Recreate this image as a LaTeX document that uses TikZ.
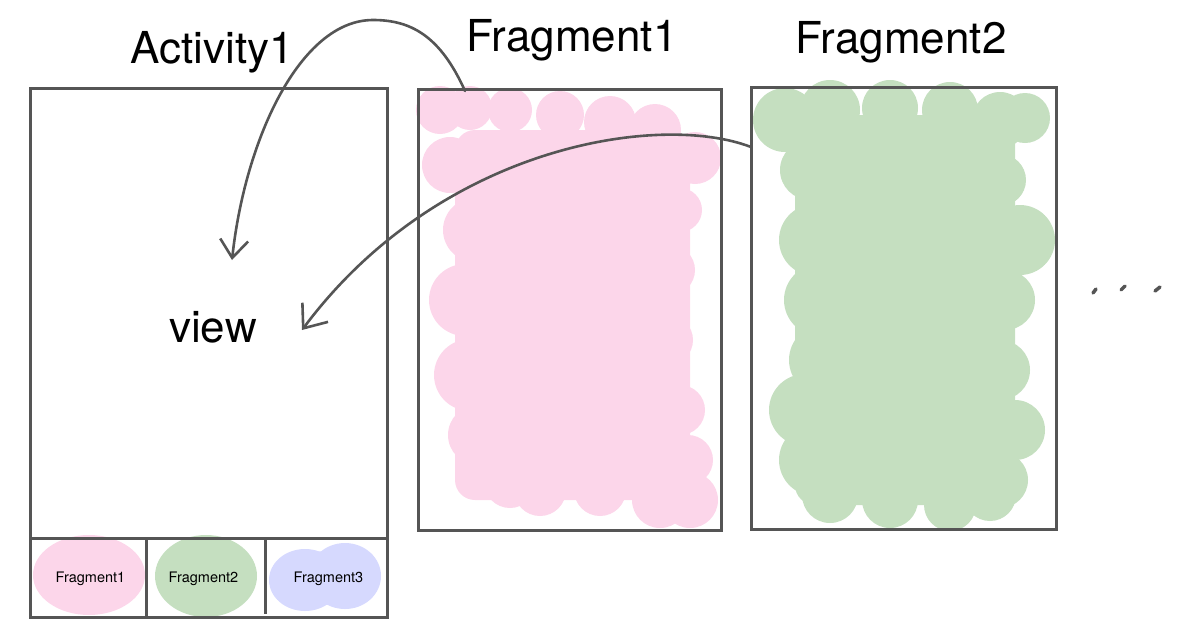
\documentclass[tikz,border=0pt]{standalone}
\usepackage{fontspec}
\setmainfont{TeX Gyre Heros}
\usetikzlibrary{arrows.meta}
\definecolor{linec}{HTML}{555555}
\definecolor{pinkc}{HTML}{FCD6EA}
\definecolor{greenc}{HTML}{C5DFC0}
\definecolor{lavc}{HTML}{D6D9FE}
\tikzset{
  frame/.style={draw=linec, line width=3pt, minimum width=#1, inner sep=0pt},
  bigtitle/.style={font=\fontsize{44}{48}\selectfont, inner sep=0pt},
  tablabel/.style={font=\fontsize{14.5}{16}\selectfont, inner sep=0pt},
  conn/.style={draw=linec, line width=2.6pt, line cap=round},
}
\begin{document}
\begin{tikzpicture}[x=1pt,y=-1pt]
\useasboundingbox (0,0) rectangle (1199,633);
% pink big blob
\fill[pinkc, rounded corners=20pt] (455,130) rectangle (690,500);
\foreach \cx/\cy/\r in {440/110/24, 470/108/22, 510/110/22, 560/115/24,
  610/122/26, 655/130/26, 695/158/26,
  450/165/28, 475/230/32, 465/300/36, 470/375/36,
  478/435/30, 485/470/28, 510/482/26, 540/490/26, 600/490/26,
  660/500/28, 690/500/28,
  680/210/22, 670/270/25, 668/340/25, 680/410/25, 688/460/25}
  \fill[pinkc] (\cx,\cy) circle (\r);
% green big blob
\fill[greenc, rounded corners=20pt] (795,115) rectangle (1015,505);
\foreach \cx/\cy/\r in {785/120/32, 830/110/30, 890/108/28, 950/110/28,
  1000/120/28, 1025/118/25,
  810/170/30, 815/240/36, 820/300/36, 825/360/36,
  805/410/36, 815/460/36, 830/495/28,
  890/500/28, 950/505/26, 990/495/26,
  1000/180/26, 1020/240/35, 1005/300/30, 1000/370/30,
  1015/430/30, 1000/480/28}
  \fill[greenc] (\cx,\cy) circle (\r);
% small blobs
\fill[pinkc] (89,575) ellipse (56 and 40);
\fill[greenc] (206,576) ellipse (51 and 41);
\fill[lavc] (305,580) ellipse (36 and 31);
\fill[lavc] (345,576) ellipse (36 and 33);
\fill[lavc] (325,578) ellipse (30 and 27);
% frames
\node[frame=357pt, minimum height=529pt] (act) at (208.5,352.5) {};
\node[frame=303pt, minimum height=441pt] (f1) at (569.5,309.5) {};
\node[frame=305pt, minimum height=442pt] (f2) at (903.5,308) {};
% tab bar
\coordinate (tl) at (30,538);
\coordinate (tr) at (387,538);
\coordinate (d1t) at (146,538);
\coordinate (d1b) at (146,617);
\coordinate (d2t) at (265,538);
\coordinate (d2b) at (265,614);
\draw[draw=linec, line width=3pt] (tl) -- (tr) (d1t) -- (d1b) (d2t) -- (d2b);
% titles
\node[bigtitle] (tact) at (212,52) {Activity1};
\node[bigtitle] (tf1) at (572,40) {Fragment1};
\node[bigtitle] (tf2) at (901,42) {Fragment2};
\node[bigtitle] (view) at (213,327) {view};
\node[tablabel] (l1) at (90.5,579) {Fragment1};
\node[tablabel] (l2) at (203.5,579) {Fragment2};
\node[tablabel] (l3) at (328.5,579) {Fragment3};
% arrows
\coordinate (a1s) at (465,91);
\coordinate (a1m) at (373,20);
\coordinate (a1e) at (232,260);
\coordinate (a2s) at (751,147);
\coordinate (a2e) at (302,330);
\draw[conn, -{Straight Barb[length=18pt,width=28pt,line width=2.6pt]}]
  (a1s) .. controls (440,35) and (410,20) .. (a1m)
        .. controls (300,20) and (245,140) .. (a1e);
\draw[conn, -{Straight Barb[length=20pt,width=32pt,line width=2.6pt]}]
  (a2s) .. controls (660,112) and (440,145) .. (a2e);
% dots
\draw[conn, line width=3.5pt] (1093,293) -- (1096,289) (1121,290) -- (1125,286) (1155,291) -- (1160,287);
\end{tikzpicture}
\end{document}
